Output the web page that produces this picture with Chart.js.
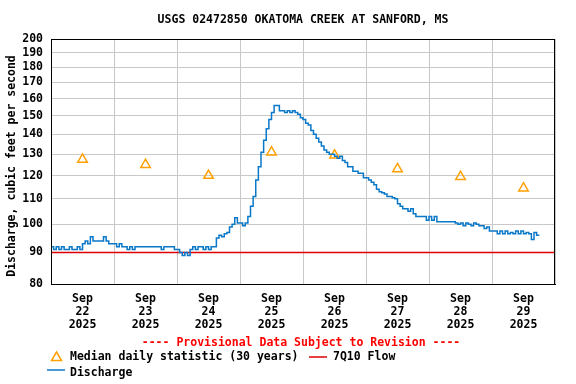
<!DOCTYPE html>
<html>
<head>
<meta charset="utf-8">
<script src="https://cdn.jsdelivr.net/npm/chart.js@4/dist/chart.umd.min.js"></script>
<style>
  html, body { margin: 0; padding: 0; background: #fff; }
</style>
</head>
<body>
<canvas id="hydrograph" width="576" height="384"></canvas>
<script>
// hourly discharge, cfs, starting Sep 22 2025 00:00
const discharge = [
  92, 91, 92, 91, 92, 91, 91, 92, 91, 91, 92, 91, 93, 94, 93, 95.5, 94, 94, 94, 94, 95.5, 94, 93, 93,
  93, 92, 93, 92, 92, 91, 92, 91, 92, 92, 92, 92, 92, 92, 92, 92, 92, 92, 91, 92, 92, 92, 92, 91,
  91, 90, 89, 90, 89, 91, 92, 91, 92, 92, 91, 92, 91, 92, 92, 95, 96, 95.5, 96.5, 97, 99, 100, 102.5, 100.5,
  100.5, 99.5, 100.5, 103, 107, 111, 118, 124, 131, 137, 143, 148, 152, 156, 156, 153, 153, 152, 153, 152, 153, 152, 151, 149,
  148, 146, 145, 142, 140, 138, 136, 134, 132, 131, 130, 130, 129, 128, 129, 127, 126, 124, 124, 122, 122, 121, 121, 119,
  119, 118, 117, 116, 114, 113, 112.5, 112, 111, 111, 110.5, 110, 108, 107, 106, 106, 105, 106, 104, 103, 103, 103, 103, 101.5,
  103, 101.5, 103, 101, 101, 101, 101, 101, 101, 101, 100.5, 100, 100.5, 99.5, 100.5, 100, 99.5, 100.5, 100, 99.5, 99.5, 98.5, 99, 97.5,
  97.5, 97.5, 96.5, 97.5, 96.5, 97.5, 96.5, 97, 96.5, 97.5, 96.5, 97.5, 96.5, 97, 96.5, 94.5, 97, 96, 96
]
const days = ["22", "23", "24", "25", "26", "27", "28", "29"]
const medianDaily = [127.5, 125, 120, 131, 129.5, 123, 119.5, 114.5]
const q7q10 = 90
const yTicks = [80, 90, 100, 110, 120, 130, 140, 150, 160, 170, 180, 190, 200]

const FONT = "DejaVu Sans Mono"
const BLUE = "#0a78c8"
const ORANGE = "#ffa000"
const RED = "#e00000"

const dischargeData = discharge.map((v, i) => ({x: i, y: v}))
const medianData = medianDaily.map((v, i) => ({x: i * 24 + 12, y: v}))

const extras = {
    id: "extras",
    afterDraw(chart) {
        const {ctx, chartArea: {left, top, width, height}} = chart
        ctx.save()
        ctx.strokeStyle = "#000"
        ctx.lineWidth = 1
        ctx.strokeRect(left + 0.5, top + 0.5, width - 1, height)

        ctx.font = "bold 11.5px '" + FONT + "'"
        ctx.fillStyle = "#000"
        ctx.textAlign = "center"
        ctx.textBaseline = "middle"
        ctx.fillText("USGS 02472850 OKATOMA CREEK AT SANFORD, MS", 303, 20)

        ctx.save()
        ctx.translate(12, 166)
        ctx.rotate(-Math.PI / 2)
        ctx.fillText("Discharge, cubic feet per second", 0, 0)
        ctx.restore()

        ctx.fillStyle = "#ff0000"
        ctx.fillText("---- Provisional Data Subject to Revision ----", 301, 343)

        // legend
        ctx.fillStyle = "#000"
        ctx.textAlign = "left"
        ctx.fillText("Median daily statistic (30 years)", 70, 357)
        ctx.fillText("7Q10 Flow", 333, 357)
        ctx.fillText("Discharge", 70, 373)

        ctx.strokeStyle = ORANGE
        ctx.lineWidth = 1.5
        ctx.beginPath()
        ctx.moveTo(56.5, 352)
        ctx.lineTo(61.5, 360.5)
        ctx.lineTo(51.5, 360.5)
        ctx.closePath()
        ctx.stroke()

        ctx.lineWidth = 1.5
        ctx.strokeStyle = RED
        ctx.beginPath()
        ctx.moveTo(309, 357)
        ctx.lineTo(327, 357)
        ctx.stroke()

        ctx.strokeStyle = BLUE
        ctx.beginPath()
        ctx.moveTo(47, 370)
        ctx.lineTo(65, 370)
        ctx.stroke()
        ctx.restore()
    }
}

const ctx = document.getElementById("hydrograph").getContext("2d")
new Chart(ctx, {
    type: "line",
    data: {
        datasets: [{
            data: dischargeData,
            borderColor: BLUE,
            borderWidth: 1.5,
            stepped: true,
            pointRadius: 0,
            order: 0
        }, {
            data: medianData,
            showLine: false,
            pointStyle: "triangle",
            pointRadius: 5.5,
            pointBorderColor: ORANGE,
            pointBackgroundColor: "rgba(0,0,0,0)",
            pointBorderWidth: 1.5,
            order: 1
        }, {
            data: [{x: 0, y: q7q10}, {x: 192, y: q7q10}],
            borderColor: RED,
            borderWidth: 1.5,
            pointRadius: 0,
            order: 2
        }]
    },
    options: {
        responsive: false,
        animation: false,
        layout: {padding: {top: 39, right: 21, left: 0, bottom: 0}},
        scales: {
            x: {
                type: "linear",
                min: 0,
                max: 192,
                afterBuildTicks(scale) {
                    const t = []
                    for (let h = 0; h <= 192; h += 12) t.push({value: h})
                    scale.ticks = t
                },
                afterFit(scale) { scale.height = 100 },
                grid: {
                    color: (c) => (c.tick && c.tick.value % 24 === 0) ? "#c8c8c8" : "rgba(0,0,0,0)",
                    drawTicks: false
                },
                border: {color: "#000"},
                ticks: {
                    autoSkip: false,
                    maxRotation: 0,
                    padding: 9,
                    color: "#000",
                    font: {family: FONT, size: 11.5, weight: "bold", lineHeight: 1.13},
                    callback: (v) => v % 24 === 12 ? ["Sep", days[(v - 12) / 24], "2025"] : ""
                }
            },
            y: {
                type: "logarithmic",
                min: 80,
                max: 200,
                afterBuildTicks(scale) {
                    scale.ticks = yTicks.map(v => ({value: v}))
                },
                afterFit(scale) { scale.width = 51 },
                grid: {color: "#c8c8c8", drawTicks: false},
                border: {color: "#000"},
                ticks: {
                    padding: 8,
                    color: "#000",
                    font: {family: FONT, size: 11.5, weight: "bold"},
                    callback: (v) => String(v)
                }
            }
        },
        plugins: {
            legend: {display: false},
            tooltip: {enabled: false},
            title: {display: false}
        }
    },
    plugins: [extras]
})
</script>
</body>
</html>
